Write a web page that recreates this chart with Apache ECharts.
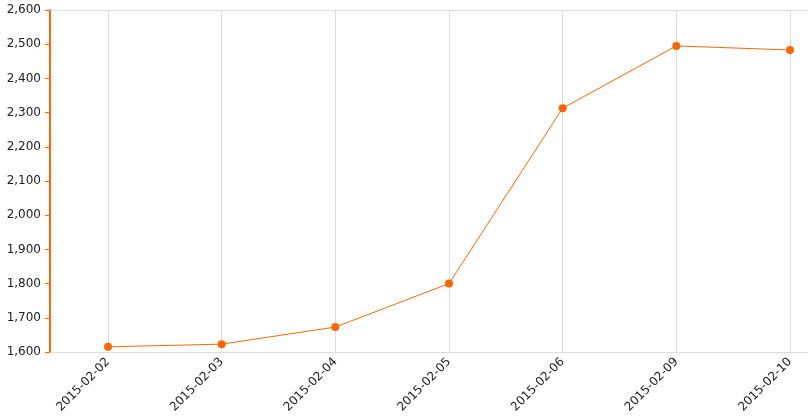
<!DOCTYPE html>
<html><head><meta charset="utf-8">
<script src="https://cdn.jsdelivr.net/npm/echarts@6/dist/echarts.min.js"></script>
<style>html,body{margin:0;padding:0;background:#fff}#c{width:808px;height:417px}</style>
</head><body><div id="c"></div>
<script>
var categories = ['2015-02-02','2015-02-03','2015-02-04','2015-02-05','2015-02-06','2015-02-09','2015-02-10'];
var values = [1615, 1623, 1673, 1800, 2313, 2495, 2483];
var yMin = 1600, yMax = 2600, yStep = 100;

var chart = echarts.init(document.getElementById('c'));
var font = 'DejaVu Sans, Verdana, sans-serif';
chart.setOption({
  animation: false,
  grid: [
    {left: 108, right: 18, top: 10, bottom: 65, containLabel: false},
    {left: 50, right: 0, top: 10, bottom: 65, containLabel: false}
  ],
  xAxis: [{
    gridIndex: 0, type: 'category', data: categories, boundaryGap: false,
    axisLine: {show: false},
    axisTick: {show: false},
    splitLine: {show: true, interval: 0, lineStyle: {color: '#dddddd', width: 1}},
    axisLabel: {interval: 0, rotate: 45, margin: 8, color: '#222', fontSize: 12, fontFamily: font}
  }, {
    gridIndex: 1, type: 'category', data: [''], position: 'bottom',
    axisLine: {show: true, lineStyle: {color: '#dddddd', width: 1}},
    axisTick: {show: false}, axisLabel: {show: false}, splitLine: {show: false}
  }, {
    gridIndex: 1, type: 'category', data: [''], position: 'top',
    axisLine: {show: true, lineStyle: {color: '#dddddd', width: 1}},
    axisTick: {show: false}, axisLabel: {show: false}, splitLine: {show: false}
  }],
  yAxis: [{
    gridIndex: 0, type: 'value', min: yMin, max: yMax, interval: yStep, offset: 58,
    axisLine: {show: true, lineStyle: {color: '#ff6600', width: 2}},
    axisTick: {show: true, length: 5, lineStyle: {color: '#ff6600', width: 1}},
    splitLine: {show: false},
    axisLabel: {margin: 9, color: '#222', fontSize: 12, fontFamily: font,
      formatter: function(v){ return v.toLocaleString('en-US'); }}
  }, {
    gridIndex: 1, type: 'value', min: yMin, max: yMax, show: false
  }],
  series: [{
    type: 'line', data: values, xAxisIndex: 0, yAxisIndex: 0,
    symbol: 'circle', symbolSize: 8,
    lineStyle: {color: '#ff6600', width: 1},
    itemStyle: {color: '#ff6600'}
  }]
});
</script></body></html>
